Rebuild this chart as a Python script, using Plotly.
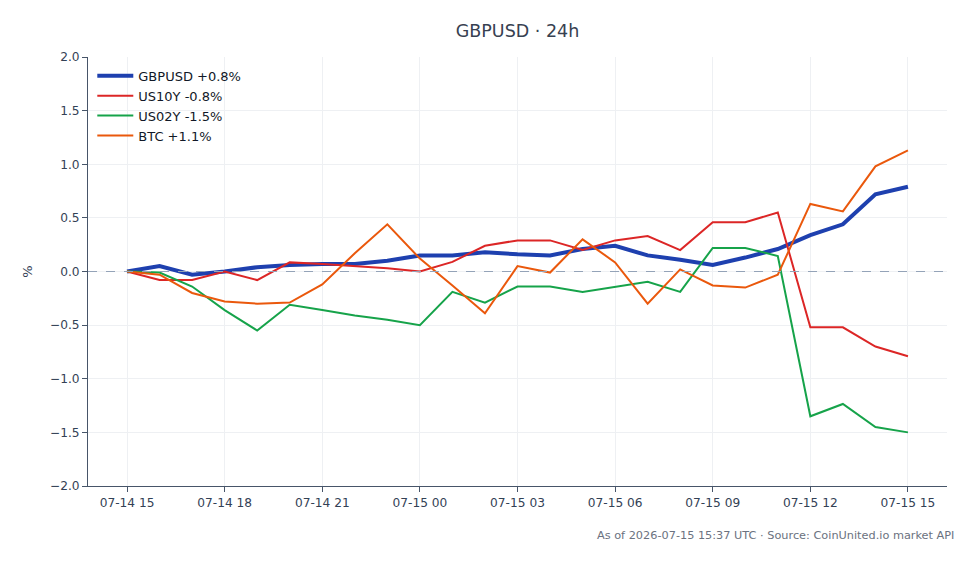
import plotly.graph_objects as go
import pandas as pd

times = pd.date_range("2026-07-14 15:00", "2026-07-15 15:00", freq="h")

gbpusd = [0.00, 0.05, -0.03, 0.00, 0.04, 0.06, 0.07, 0.07, 0.10, 0.15, 0.15, 0.18, 0.16,
          0.15, 0.21, 0.24, 0.15, 0.11, 0.06, 0.13, 0.21, 0.34, 0.44, 0.72, 0.79]
us10y = [0.00, -0.08, -0.08, 0.00, -0.08, 0.085, 0.07, 0.05, 0.03, 0.00, 0.09, 0.24, 0.29,
         0.29, 0.20, 0.29, 0.33, 0.20, 0.46, 0.46, 0.55, -0.52, -0.52, -0.70, -0.79]
us02y = [0.00, -0.01, -0.14, -0.36, -0.55, -0.31, -0.36, -0.41, -0.45, -0.50, -0.19, -0.29, -0.14,
         -0.14, -0.19, -0.14, -0.095, -0.19, 0.22, 0.22, 0.145, -1.35, -1.235, -1.45, -1.50]
btc = [0.00, -0.03, -0.20, -0.28, -0.30, -0.29, -0.12, 0.17, 0.44, 0.12, -0.13, -0.39, 0.05,
       -0.01, 0.30, 0.085, -0.30, 0.02, -0.13, -0.15, -0.03, 0.63, 0.56, 0.98, 1.13]

series = [
    ("GBPUSD +0.8%", gbpusd, "#1e40af", 4),
    ("US10Y -0.8%", us10y, "#dc2626", 2),
    ("US02Y -1.5%", us02y, "#16a34a", 2),
    ("BTC +1.1%", btc, "#ea580c", 2),
]
y_ticks = [-2.0, -1.5, -1.0, -0.5, 0.0, 0.5, 1.0, 1.5, 2.0]

FONT = "DejaVu Sans"
fig = go.Figure()
for name, vals, color, w in series:
    fig.add_trace(go.Scatter(x=times, y=vals, mode="lines", name=name,
                             line=dict(color=color, width=w)))

fig.add_hline(y=0, line=dict(color="#94a3b8", width=1, dash="dash"))

pad = pd.Timedelta(minutes=72)
fig.update_layout(
    width=979, height=564,
    margin=dict(l=88, r=32, t=57, b=78),
    paper_bgcolor="white", plot_bgcolor="white",
    font=dict(family=FONT, size=11, color="#334155"),
    title=dict(text="GBPUSD · 24h", x=0.5, xref="paper", xanchor="center", y=0.945,
               yanchor="middle", font=dict(family=FONT, size=17.5, color="#374151")),
    legend=dict(x=0.005, y=0.991, xanchor="left", yanchor="top", bgcolor="rgba(0,0,0,0)",
                itemwidth=36, font=dict(family=FONT, size=13, color="#111827")),
    xaxis=dict(range=[times[0] - pad, times[-1] + pad], dtick=3 * 3600 * 1000,
               tick0="2026-07-14 15:00", tickformat="%m-%d %H",
               showgrid=True, gridcolor="#eef0f3", showline=True, linecolor="#475569",
               ticks="outside", ticklen=5, tickcolor="#475569", zeroline=False,
               tickfont=dict(size=12.2, color="#334155")),
    yaxis=dict(range=[-2, 2], tickvals=y_ticks, tickformat=".1f",
               showgrid=True, gridcolor="#eef0f3", showline=True, linecolor="#475569",
               ticks="outside", ticklen=5, tickcolor="#475569", zeroline=False,
               title=dict(text="%", standoff=14, font=dict(size=13, color="#334155")),
               tickfont=dict(size=12.2, color="#334155")),
    annotations=[dict(text="As of 2026-07-15 15:37 UTC · Source: CoinUnited.io market API",
                      xref="paper", yref="paper", x=1.01, y=-0.115, xanchor="right",
                      yanchor="middle", showarrow=False,
                      font=dict(family=FONT, size=11.3, color="#6b7280"))],
)

fig.write_html("out.html")
